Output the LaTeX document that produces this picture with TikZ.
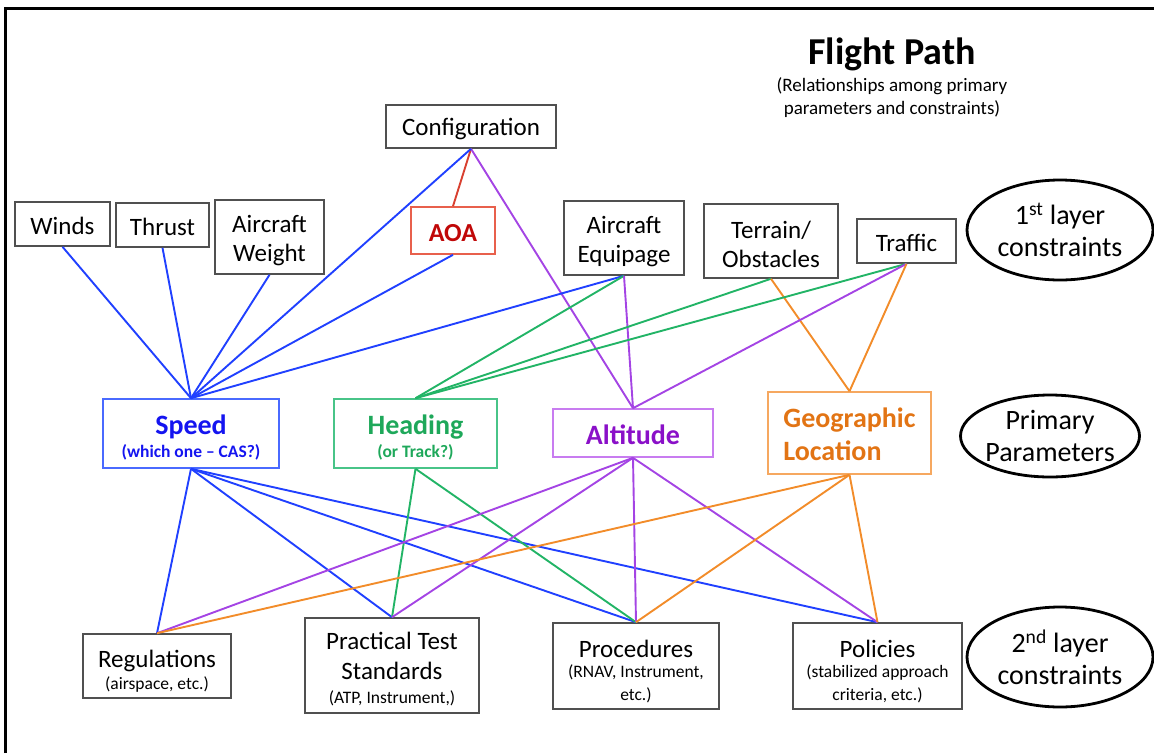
\documentclass[tikz,border=0pt]{standalone}
\usepackage{fontspec}
\setmainfont{Carlito}
\usetikzlibrary{shapes.geometric}
\definecolor{cblue}{HTML}{2040FF}
\definecolor{tblue}{HTML}{1414F0}
\definecolor{bblue}{HTML}{4A6AFF}
\definecolor{cgreen}{HTML}{22B466}
\definecolor{tgreen}{HTML}{1EA85A}
\definecolor{bgreen}{HTML}{48C488}
\definecolor{cpurple}{HTML}{A444E4}
\definecolor{tpurple}{HTML}{8A10C8}
\definecolor{bpurple}{HTML}{C87CF0}
\definecolor{corange}{HTML}{F28C2A}
\definecolor{torange}{HTML}{E27414}
\definecolor{borange}{HTML}{F6A860}
\definecolor{cred}{HTML}{D84030}
\definecolor{tred}{HTML}{C00808}
\definecolor{bred}{HTML}{E8604C}
\definecolor{boxgray}{HTML}{505050}
\tikzset{
  box/.style={draw=boxgray, line width=1.6pt, inner sep=0pt, align=center,
    font=\fontsize{25}{29}\selectfont},
  pbox/.style={line width=1.6pt, inner sep=0pt, align=center,
    font=\fontsize{28}{31}\selectfont\bfseries},
  oval/.style={ellipse, draw=black, line width=2.8pt, inner sep=0pt},
  ovaltext/.style={align=center, inner sep=0pt, font=\fontsize{28}{32}\selectfont},
  con/.style={line width=1.9pt},
}
\newcommand{\subtxt}[1]{{\fontsize{17.5}{21}\selectfont #1}}
\newcommand{\tall}[1]{\rule{0pt}{#1}}
\begin{document}
\begin{tikzpicture}[x=1pt,y=-1pt]
\useasboundingbox (0,0) rectangle (1154,753);
\draw[line width=2.5pt] (5.3,753) -- (5.3,8.3) -- (1154,8.3);

% title
\node[font=\fontsize{38}{40}\selectfont\bfseries] (title) at (892,54) {Flight Path};
\node[align=center, font=\fontsize{19}{23}\selectfont] (subtitle) at (892,98)
  {(Relationships among primary\\parameters and constraints)};

% first layer constraints
\node[box, minimum width=95pt, minimum height=44pt] (winds) at (62.5,224) {\tall{21pt}Winds};
\node[box, minimum width=93pt, minimum height=44pt] (thrust) at (162.5,225) {\tall{21pt}Thrust};
\node[box, minimum width=109pt, minimum height=74pt] (weight) at (269.5,237) {\tall{24pt}Aircraft\\Weight};
\node[box, minimum width=170pt, minimum height=43pt] (config) at (471,126.5) {\tall{22pt}Configuration};
\node[box, draw=bred, minimum width=84pt, minimum height=47pt, text=tred,
  font=\fontsize{26}{29}\selectfont\bfseries] (aoa) at (453,230.5) {\tall{22pt}AOA};
\node[box, minimum width=120pt, minimum height=74pt] (equip) at (624,238) {\tall{24pt}Aircraft\\Equipage};
\node[box, minimum width=134pt, minimum height=74pt] (terrain) at (771,241) {\tall{24pt}Terrain/\\Obstacles};
\node[box, minimum width=99pt, minimum height=44pt] (traffic) at (906.5,241) {\tall{21pt}Traffic};

% primary parameters
\node[pbox, draw=bblue, text=tblue, minimum width=176pt, minimum height=69pt] (speed) at (191,433.5)
  {\tall{27pt}Speed\\[-8pt]\subtxt{\bfseries(which one -- CAS?)}};
\node[pbox, draw=bgreen, text=tgreen, minimum width=163pt, minimum height=69pt] (heading) at (415.5,433.5)
  {\tall{27pt}Heading\\[-8pt]\subtxt{\bfseries(or Track?)}};
\node[pbox, draw=bpurple, text=tpurple, minimum width=160pt, minimum height=48pt] (altitude) at (633,433)
  {\tall{23pt}Altitude};
\node[pbox, draw=borange, text=torange, minimum width=163pt, minimum height=82pt, align=left,
  font=\fontsize{28}{33}\selectfont\bfseries] (geo) at (849.5,433) {\tall{22pt}Geographic\\Location};

% second layer constraints
\node[box, minimum width=148pt, minimum height=64pt] (regs) at (157,666)
  {\tall{28pt}Regulations\\[-7pt]\subtxt{(airspace, etc.)}};
\node[box, minimum width=174pt, minimum height=95pt] (pts) at (392,665.5)
  {\tall{25pt}Practical Test\\[1pt]Standards\\[-5pt]\subtxt{(ATP, Instrument,)}};
\node[box, minimum width=166pt, minimum height=86pt] (proc) at (636,666)
  {\tall{28pt}Procedures\\[-9pt]\subtxt{(RNAV, Instrument,}\\[-6pt]\subtxt{etc.)}};
\node[box, minimum width=169pt, minimum height=86pt] (pol) at (877.5,666)
  {\tall{28pt}Policies\\[-9pt]\subtxt{(stabilized approach}\\[-6pt]\subtxt{criteria, etc.)}};

% side ovals
\node[oval, minimum width=186pt, minimum height=100pt] (oval1) at (1060,230) {};
\node[ovaltext] (oval1t) at (oval1.center) {1\textsuperscript{st} layer\\constraints};
\node[oval, minimum width=179pt, minimum height=82pt] (oval2) at (1050,436) {};
\node[ovaltext] (oval2t) at (oval2.center) {Primary\\Parameters};
\node[oval, minimum width=186pt, minimum height=100pt] (oval3) at (1060,657) {};
\node[ovaltext] (oval3t) at (oval3.center) {2\textsuperscript{nd} layer\\constraints};

% connectors: upper layer
\draw[con, cred] (config.south) -- (aoa.north);
\draw[con, cpurple] (config.south) -- (altitude.north);
\draw[con, cblue] (config.south) -- (speed.north);
\foreach \n in {winds, thrust, weight, aoa, equip}
  \draw[con, cblue] (\n.south) -- (speed.north);
\draw[con, cgreen] (equip.south) -- (heading.north);
\draw[con, cpurple] (equip.south) -- (altitude.north);
\draw[con, cgreen] (terrain.south) -- (heading.north);
\draw[con, corange] (terrain.south) -- (geo.north);
\draw[con, cgreen] (traffic.south) -- (heading.north);
\draw[con, cpurple] (traffic.south) -- (altitude.north);
\draw[con, corange] (traffic.south) -- (geo.north);

% connectors: lower layer
\foreach \n in {regs, pts, proc, pol}
  \draw[con, cblue] (speed.south) -- (\n.north);
\foreach \n in {pts, proc}
  \draw[con, cgreen] (heading.south) -- (\n.north);
\foreach \n in {regs, pts, proc, pol}
  \draw[con, cpurple] (altitude.south) -- (\n.north);
\foreach \n in {regs, proc, pol}
  \draw[con, corange] (geo.south) -- (\n.north);
\end{tikzpicture}
\end{document}
